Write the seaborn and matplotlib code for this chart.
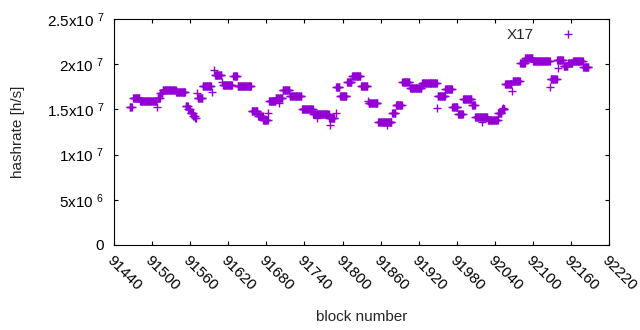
import numpy as np
import matplotlib
matplotlib.use("Agg")
import matplotlib.pyplot as plt
import seaborn as sns

# runs of consecutive blocks sharing one hashrate estimate (values in 1e6 h/s)
run_start = [91465, 91470, 91481, 91509, 91513, 91517, 91538, 91553, 91557, 91561,
             91565, 91568, 91572, 91580, 91599, 91612, 91628, 91635, 91657, 91667,
             91675, 91684, 91695, 91706, 91717, 91736, 91754, 91779, 91790, 91796,
             91807, 91815, 91829, 91841, 91856, 91878, 91884, 91894, 91906, 91925,
             91950, 91962, 91973, 91982, 91990, 92004, 92009, 92029, 92045, 92051,
             92056, 92068, 92080, 92088, 92100, 92128, 92138, 92148, 92155, 92163,
             92179]
run_end = [91468, 91480, 91507, 91512, 91516, 91537, 91552, 91556, 91560, 91564,
           91567, 91569, 91579, 91593, 91609, 91626, 91634, 91656, 91666, 91674,
           91682, 91694, 91705, 91716, 91735, 91753, 91778, 91787, 91795, 91806,
           91814, 91828, 91839, 91855, 91877, 91883, 91893, 91905, 91924, 91948,
           91961, 91972, 91981, 91989, 92003, 92008, 92028, 92044, 92050, 92055,
           92066, 92079, 92087, 92099, 92126, 92137, 92147, 92154, 92162, 92178,
           92187]
run_value = [15.3, 16.3, 15.9, 16.3, 16.8, 17.1, 16.9, 15.4, 15.0, 14.6,
             14.3, 14.0, 16.3, 17.6, 18.8, 17.7, 18.7, 17.6, 14.8, 14.3,
             13.8, 15.9, 16.3, 17.2, 16.5, 15.0, 14.5, 14.0, 17.5, 16.5,
             18.0, 18.7, 17.6, 15.7, 13.6, 14.6, 15.5, 18.0, 17.4, 17.9,
             16.5, 17.3, 15.3, 14.5, 16.1, 15.5, 14.2, 13.8, 14.6, 15.1,
             17.8, 18.2, 20.1, 20.7, 20.4, 18.4, 20.5, 19.8, 20.1, 20.4,
             19.7]

# single blocks off the runs
single_block = [91508, 91571, 91594, 91598, 91610, 91683, 91700, 91780, 91789, 91840,
                91949, 92067, 92127, 92139, 92053, 92020, 91870, 91760]
single_value = [15.3, 16.8, 16.9, 19.4, 18.0, 14.6, 15.7, 13.3, 14.6, 15.9,
                15.2, 17.0, 17.5, 19.6, 15.2, 13.6, 13.3, 14.0]

x_ticks = list(range(91440, 92221, 60))
y_ticks = [0, 5e6, 1e7, 1.5e7, 2e7, 2.5e7]
y_tick_labels = ["0", r"5x10$\;^{6}$", r"1x10$\;^{7}$", r"1.5x10$\;^{7}$",
                 r"2x10$\;^{7}$", r"2.5x10$\;^{7}$"]

blocks = np.concatenate([np.arange(s, e + 1) for s, e in zip(run_start, run_end)] + [single_block])
lengths = [e - s + 1 for s, e in zip(run_start, run_end)]
rates = np.concatenate([np.repeat(run_value, lengths), single_value]) * 1e6

sns.set_style("ticks")
plt.rcParams["font.family"] = ["Liberation Sans", "DejaVu Sans"]
plt.rcParams["mathtext.default"] = "regular"

fig = plt.figure(figsize=(6.4, 3.3), dpi=100)
ax = fig.add_axes([0.178, 0.258, 0.774, 0.684])

sns.scatterplot(x=blocks, y=rates, marker="+", color="#9400d3", s=36,
                linewidth=1.0, label="X17", ax=ax)

ax.set_xlim(91440, 92220)
ax.set_ylim(0, 2.5e7)
ax.set_xticks(x_ticks)
ax.set_xticklabels([str(t) for t in x_ticks], rotation=-45, ha="left", va="top",
                   rotation_mode="anchor")
ax.set_yticks(y_ticks)
ax.set_yticklabels(y_tick_labels)
ax.tick_params(direction="in", top=True, right=True, length=3, width=0.8,
               labelsize=11, colors="black", pad=7)
ax.tick_params(axis="x", pad=6)
for sp in ax.spines.values():
    sp.set_visible(True)
    sp.set_color("black")
    sp.set_linewidth(0.8)

ax.set_xlabel("block number", fontsize=11, labelpad=12)
ax.set_ylabel("hashrate [h/s]", fontsize=11, labelpad=16)

ax.legend(loc="upper right", frameon=False, markerfirst=False, fontsize=11,
          handletextpad=1.2, borderaxespad=0.0, bbox_to_anchor=(0.959, 0.99))

fig.savefig("out.png", dpi=100)
